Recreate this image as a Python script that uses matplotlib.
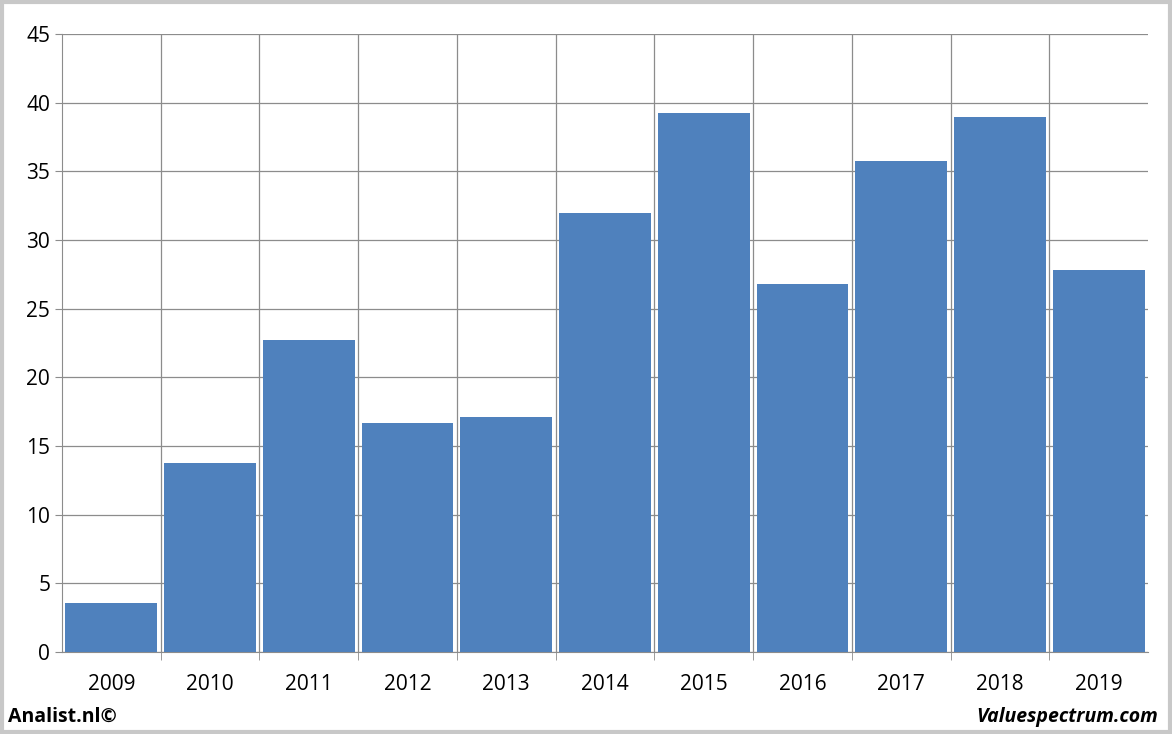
import matplotlib.pyplot as plt
from matplotlib.patches import Rectangle

years = ["2009", "2010", "2011", "2012", "2013", "2014", "2015", "2016", "2017", "2018", "2019"]
values = [3.6, 13.75, 22.7, 16.7, 17.1, 32.0, 39.25, 26.8, 35.75, 38.95, 27.8]

plt.rcParams['font.family'] = ['Open Sans', 'DejaVu Sans']

fig = plt.figure(figsize=(11.72, 7.34), dpi=100)
ax = fig.add_axes([62 / 1172, 82 / 734, 1086 / 1172, 618 / 734])

x = range(len(years))
ax.bar(x, values, width=0.93, color="#4F81BD", zorder=3)
ax.set_xlim(-0.5, len(years) - 0.5)
ax.set_ylim(0, 45)
ax.set_yticks(range(0, 46, 5))
ax.set_xticks([i + 0.5 for i in range(len(years) - 1)], minor=True)
ax.set_xticks(list(x))
ax.set_xticklabels(years)
ax.grid(True, which="minor", axis="x", color="#8c8c8c", lw=0.9, zorder=0)
ax.grid(True, which="major", axis="y", color="#8c8c8c", lw=0.9, zorder=0)
ax.tick_params(axis="x", which="major", length=0, labelsize=15, pad=16)
ax.tick_params(axis="x", which="minor", length=6, color="#8c8c8c")
ax.tick_params(axis="y", labelsize=15, length=5, color="#8c8c8c")
for s in ["top", "right"]:
    ax.spines[s].set_visible(False)
for s in ["left", "bottom"]:
    ax.spines[s].set_color("#8c8c8c")

fig.patches.append(Rectangle((0.002, 0.003), 0.996, 0.994, transform=fig.transFigure,
                             fill=False, edgecolor="#c8c8c8", lw=3))
fig.text(8 / 1172, 1 - 717 / 734, "Analist.nl©", fontsize=14, fontweight="bold", va="center")
fig.text(1158 / 1172, 1 - 717 / 734, "Valuespectrum.com", fontsize=14, fontweight="bold",
         style="italic", va="center", ha="right")

fig.savefig("out.png", dpi=100)
